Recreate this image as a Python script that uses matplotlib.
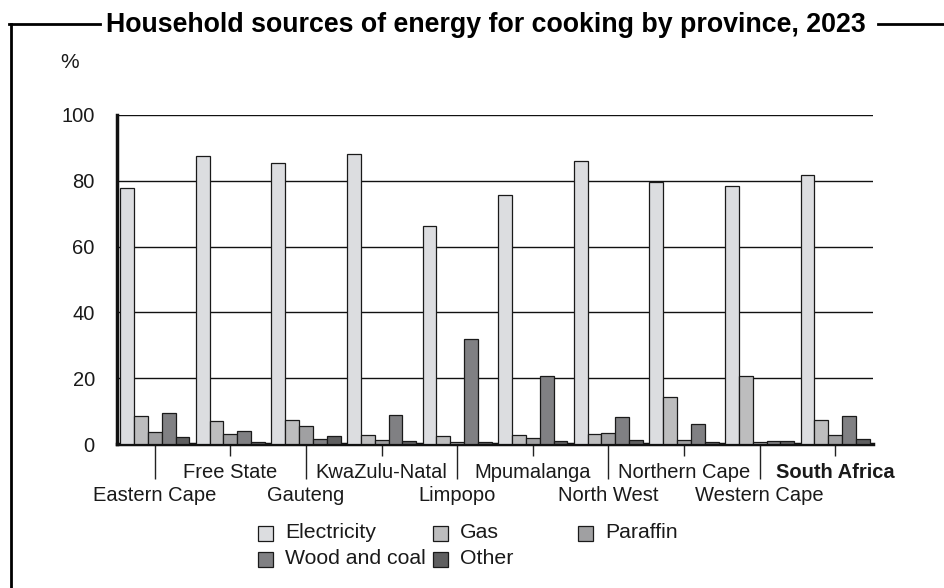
import matplotlib
matplotlib.use("Agg")
import matplotlib.pyplot as plt
import numpy as np
from matplotlib.lines import Line2D
from matplotlib.patches import Rectangle

plt.rcParams['font.family'] = ['Liberation Sans', 'DejaVu Sans']

# ------------------------------------------------------------
# Data (%)
# ------------------------------------------------------------
provinces = ["Eastern Cape", "Free State", "Gauteng", "KwaZulu-Natal", "Limpopo",
             "Mpumalanga", "North West", "Northern Cape", "Western Cape", "South Africa"]
sources = ["Electricity", "Gas", "Paraffin", "Wood and coal", "Other"]

electricity = [77.9, 87.4, 85.3, 88.0, 66.2, 75.6, 85.9, 79.5, 78.3, 81.7]
gas = [8.5, 7.0, 7.3, 2.7, 2.5, 2.7, 3.0, 14.3, 20.7, 7.3]
paraffin = [3.6, 3.0, 5.6, 1.2, 0.6, 1.8, 3.3, 1.3, 0.7, 2.8]
wood_coal = [9.4, 3.9, 1.5, 8.8, 31.9, 20.7, 8.3, 6.1, 1.0, 8.5]
other = [2.2, 0.7, 2.5, 0.9, 0.6, 0.9, 1.2, 0.7, 1.0, 1.6]

yticks = [0, 20, 40, 60, 80, 100]

colors = ["#dcdde0", "#bdbdbe", "#a0a0a2", "#808083", "#5f5f60"]
edge = "#1a1a1a"
txt = "#1a1a1a"

series = [electricity, gas, paraffin, wood_coal, other]

# ------------------------------------------------------------
# Figure
# ------------------------------------------------------------
W, H = 945, 588
fig = plt.figure(figsize=(W / 100, H / 100), dpi=100)


def fx(px):
    return px / W


def fy(py):
    return 1 - py / H


ax = fig.add_axes([fx(117), fy(444), fx(873) - fx(117), fy(115) - fy(444)])

x = np.arange(len(provinces))
bw = 0.183
for i, (vals, c) in enumerate(zip(series, colors)):
    ax.bar(x + (i - 2) * bw, vals, width=bw, color=c, edgecolor=edge,
           linewidth=0.9, zorder=3)

ax.set_xlim(-0.5, len(provinces) - 0.5)
ax.set_ylim(0, 100)
ax.set_yticks(yticks)
ax.set_yticklabels([str(v) for v in yticks], fontsize=14.5, color=txt)
ax.yaxis.grid(True, color="#111111", linewidth=1)
ax.set_axisbelow(True)
ax.tick_params(axis="y", length=0, pad=16)

for s in ["top", "right"]:
    ax.spines[s].set_visible(False)
ax.spines["left"].set_linewidth(2.5)
ax.spines["bottom"].set_linewidth(2.5)
ax.spines["left"].set_color("#111111")
ax.spines["bottom"].set_color("#111111")

# lower row labels on major ticks, upper row on minor ticks
ax.set_xticks(x[0::2])
ax.set_xticklabels(provinces[0::2], fontsize=14.5, color=txt)
ax.set_xticks(x[1::2], minor=True)
ax.set_xticklabels(provinces[1::2], minor=True, fontsize=14.5, color=txt)
ax.tick_params(axis="x", which="major", length=25, width=1, color="#222222", pad=5)
ax.tick_params(axis="x", which="minor", length=8.5, width=1, color="#222222", pad=5)
ax.get_xticklabels(minor=True)[-1].set_fontweight("bold")

# ------------------------------------------------------------
# Legend (grid placed by hand)
# ------------------------------------------------------------
leg_pos = [(258, 533), (433, 533), (578, 533), (258, 559), (433, 559)]
for (px, py), name, c in zip(leg_pos, sources, colors):
    fig.patches.append(Rectangle((fx(px), fy(py + 7.5)), fx(15), 15 / H,
                                 transform=fig.transFigure, facecolor=c,
                                 edgecolor=edge, linewidth=0.9))
    fig.text(fx(px + 27), fy(py), name, fontsize=15.3, color=txt,
             ha="left", va="center")

# ------------------------------------------------------------
# Frame and title
# ------------------------------------------------------------
fig.add_artist(Line2D([fx(10.5), fx(10.5)], [fy(23.5), 0], color="black",
                      linewidth=2, transform=fig.transFigure))
fig.add_artist(Line2D([fx(9.5), fx(100)], [fy(23.5), fy(23.5)], color="black",
                      linewidth=2, transform=fig.transFigure))
fig.add_artist(Line2D([fx(878), 1], [fy(23.5), fy(23.5)], color="black",
                      linewidth=2, transform=fig.transFigure))
fig.text(fx(485.5), fy(25), "Household sources of energy for cooking by province, 2023",
         fontsize=19.3, fontweight="bold", color="black", ha="center", va="center")
fig.text(fx(70), fy(62), "%", fontsize=15, color=txt, ha="center", va="center")

fig.savefig("out.png", dpi=100)
